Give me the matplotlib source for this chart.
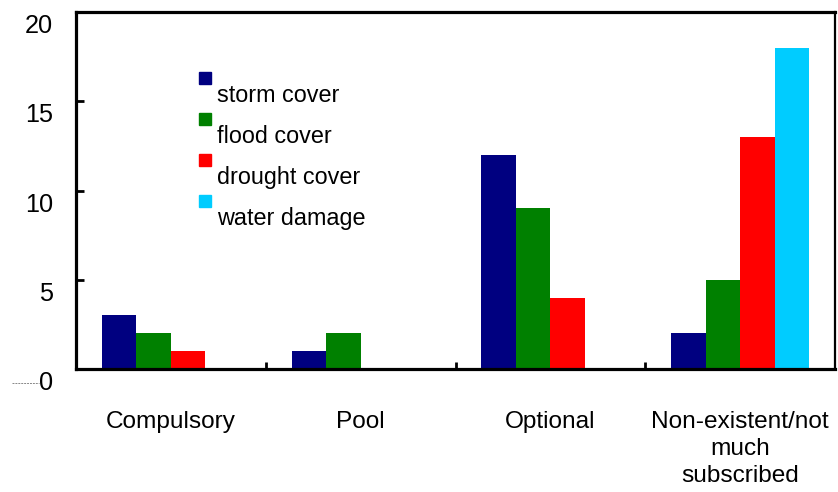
import matplotlib.pyplot as plt
import numpy as np
from matplotlib.lines import Line2D
from matplotlib.patches import Rectangle

plt.rcParams['font.family'] = ['Liberation Sans', 'DejaVu Sans']

categories = ['Compulsory', 'Pool', 'Optional', 'Non-existent/not\nmuch\nsubscribed']
series = ['storm cover', 'flood cover', 'drought cover', 'water damage']
storm = [3, 1, 12, 2]
flood = [2, 2, 9, 5]
drought = [1, 0, 4, 13]
water = [0, 0, 0, 18]
yticks = [0, 5, 10, 15, 20]
colors = ['#000080', '#008000', '#ff0000', '#00ccff']

W, H, DPI = 838, 492, 100
fig = plt.figure(figsize=(W / DPI, H / DPI), dpi=DPI)
ax = fig.add_axes([76 / W, 1 - 369 / H, (835 - 76) / W, (369 - 12) / H])

x = np.arange(len(categories))
width = 0.182
for i, vals in enumerate([storm, flood, drought, water]):
    ax.bar(x + (i - 1.5) * width, vals, width, color=colors[i], linewidth=0)

ax.set_xlim(-0.5, len(categories) - 0.5)
ax.set_ylim(0, 20)

for s in ax.spines.values():
    s.set_linewidth(2.3)
    s.set_color('black')
ax.spines['right'].set_linewidth(1.6)

# group labels at centres, separator ticks between groups
ax.set_xticks(x)
ax.set_xticklabels(categories, fontsize=17.6, linespacing=1.3)
ax.tick_params(axis='x', which='major', length=0, pad=30)
ax.set_xticks(x[:-1] + 0.5, minor=True)
ax.tick_params(axis='x', which='minor', direction='in', length=5, width=2)

# y labels sit a little below their ticks
ax.set_yticks(yticks)
ax.set_yticklabels([])
ax.tick_params(axis='y', direction='in', length=6, width=2)
for v in yticks:
    ax.annotate(str(v), xy=(0, v), xycoords=('axes fraction', 'data'),
                xytext=(-23, -14), textcoords='offset pixels',
                ha='right', va='center', fontsize=18.2)

# small dashed stroke next to the zero label
fig.lines.append(Line2D([12 / W, 39 / W], [1 - 383 / H] * 2, transform=fig.transFigure,
                        color='#888888', linewidth=0.7, linestyle=(0, (2, 1))))

# legend: swatch above-left of each label
for i, (name, c) in enumerate(zip(series, colors)):
    top = 72 + 41 * i
    fig.patches.append(Rectangle((199 / W, 1 - (top + 12) / H), 12 / W, 12 / H,
                                 transform=fig.transFigure, color=c))
    fig.text(217 / W, 1 - (102 + 41 * i) / H, name, fontsize=16.8,
             ha='left', va='baseline')

fig.savefig('out.png', dpi=DPI)
